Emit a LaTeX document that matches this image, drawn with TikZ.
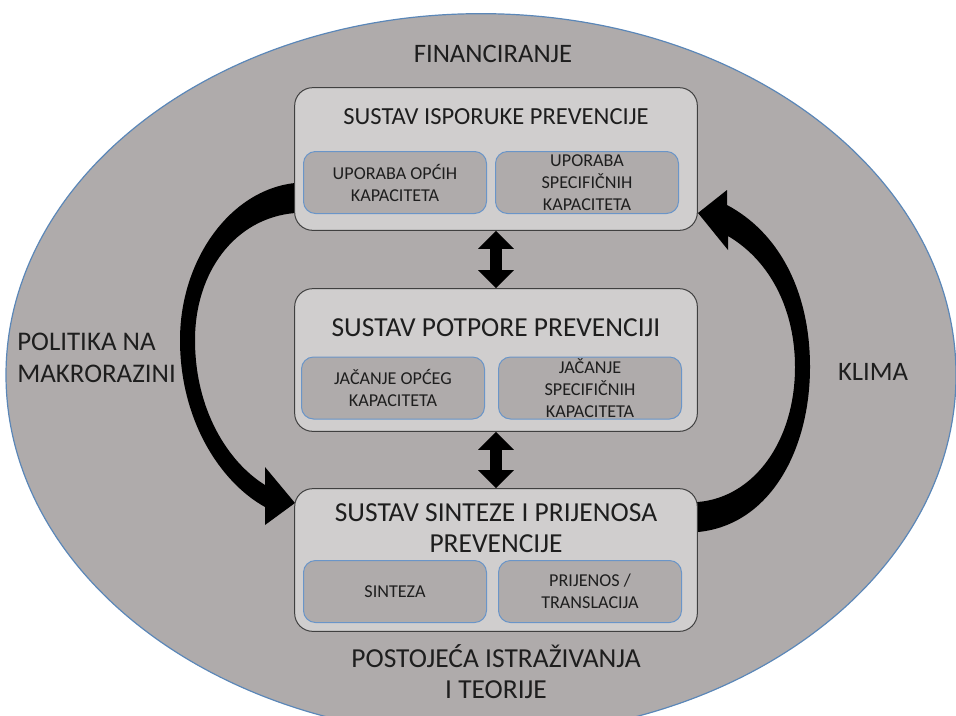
\documentclass[tikz,border=0pt]{standalone}
\usepackage{fontspec}
\setmainfont{Carlito}
\usetikzlibrary{arrows.meta}
\definecolor{ovalgray}{HTML}{AFABAB}
\definecolor{boxgray}{HTML}{D0CECE}
\definecolor{subblue}{HTML}{6A95C8}
\definecolor{ovalblue}{HTML}{5B87B8}
\definecolor{textdark}{HTML}{1E1E1E}
\tikzset{
	sustav/.style={draw=black!75, line width=0.75pt, fill=boxgray, rounded corners=13.5pt, minimum width=302pt, minimum height=107pt, inner sep=0pt},
	dio/.style={draw=subblue, line width=0.75pt, fill=ovalgray, rounded corners=9pt, minimum width=137.25pt, minimum height=46.5pt, inner sep=0pt, align=center, text=textdark, font=\fontsize{13.6}{16.5}\selectfont},
	naslov/.style={inner sep=0pt, align=center, text=textdark},
	okvir/.style={inner sep=0pt, text=textdark, font=\fontsize{20.2}{24.5}\selectfont},
	veza/.style={line width=9pt, {Triangle[width=26pt,length=13.5pt]}-{Triangle[width=26pt,length=13.5pt]}},
}
\begin{document}
\begin{tikzpicture}[x=0.75pt,y=-0.75pt]
	\useasboundingbox (0,0) rectangle (956,715);
	\clip (0,0) rectangle (956,715);
	\draw[fill=ovalgray, draw=ovalblue, line width=0.9pt] (481,375) ellipse [x radius=356.25pt, y radius=271pt];
	\fill[black] (305,183) -- (295,183) .. controls (230,190) and (180,260) .. (180,340) .. controls (180,420) and (220,482) .. (265,507) -- (265,525) -- (295,503) -- (265,467) -- (265,485) .. controls (228,462) and (195,410) .. (195,340) .. controls (195,272) and (235,218) .. (295,213) -- (305,213) -- cycle;
	\fill[black] (688,532) -- (698,532) .. controls (770,525) and (810,450) .. (810,367) .. controls (810,290) and (778,232) .. (727,205) -- (727,190) -- (698,213) -- (728,250) -- (728,236) .. controls (772,262) and (795,312) .. (795,367) .. controls (795,440) and (755,497) .. (698,502) -- (688,502) -- cycle;
	\node[sustav] (isporuka) at (496,159) {};
	\node[sustav] (potpora) at (496,360) {};
	\node[sustav] (sinteza) at (496,560) {};
	\draw[veza] (isporuka.south) -- (potpora.north);
	\draw[veza] (potpora.south) -- (sinteza.north);
	\node[naslov, font=\fontsize{18.4}{22}\selectfont] (isporukaNaslov) at (496,117) {SUSTAV ISPORUKE PREVENCIJE};
	\node[naslov, font=\fontsize{20.6}{23.25}\selectfont] (potporaNaslov) at (496,328) {SUSTAV POTPORE PREVENCIJI};
	\node[naslov, font=\fontsize{20.6}{23.25}\selectfont] (sintezaNaslov) at (496,528.5) {SUSTAV SINTEZE I PRIJENOSA\\PREVENCIJE};
	\node[dio] (isporukaOpci) at (395,182.5) {UPORABA OPĆIH\\KAPACITETA};
	\node[dio] (isporukaSpec) at (587,182.5) {UPORABA\\SPECIFIČNIH\\KAPACITETA};
	\node[dio] (potporaOpci) at (393,388) {JAČANJE OPĆEG\\KAPACITETA};
	\node[dio] (potporaSpec) at (590,388) {JAČANJE\\SPECIFIČNIH\\KAPACITETA};
	\node[dio] (sintezaSint) at (395,591.5) {SINTEZA};
	\node[dio] (sintezaPrij) at (590,591.5) {PRIJENOS /\\TRANSLACIJA};
	\node[okvir, font=\fontsize{20}{24.5}\selectfont] (financiranje) at (493,54) {FINANCIRANJE};
	\node[okvir, anchor=west, align=left] (politika) at (17,358) {POLITIKA NA\\MAKRORAZINI};
	\node[okvir, font=\fontsize{20}{24.5}\selectfont] (klima) at (873,371.5) {KLIMA};
	\node[okvir, align=center, font=\fontsize{20.6}{23.25}\selectfont] (istrazivanja) at (496,672) {POSTOJEĆA ISTRAŽIVANJA\\I TEORIJE};
\end{tikzpicture}
\end{document}
